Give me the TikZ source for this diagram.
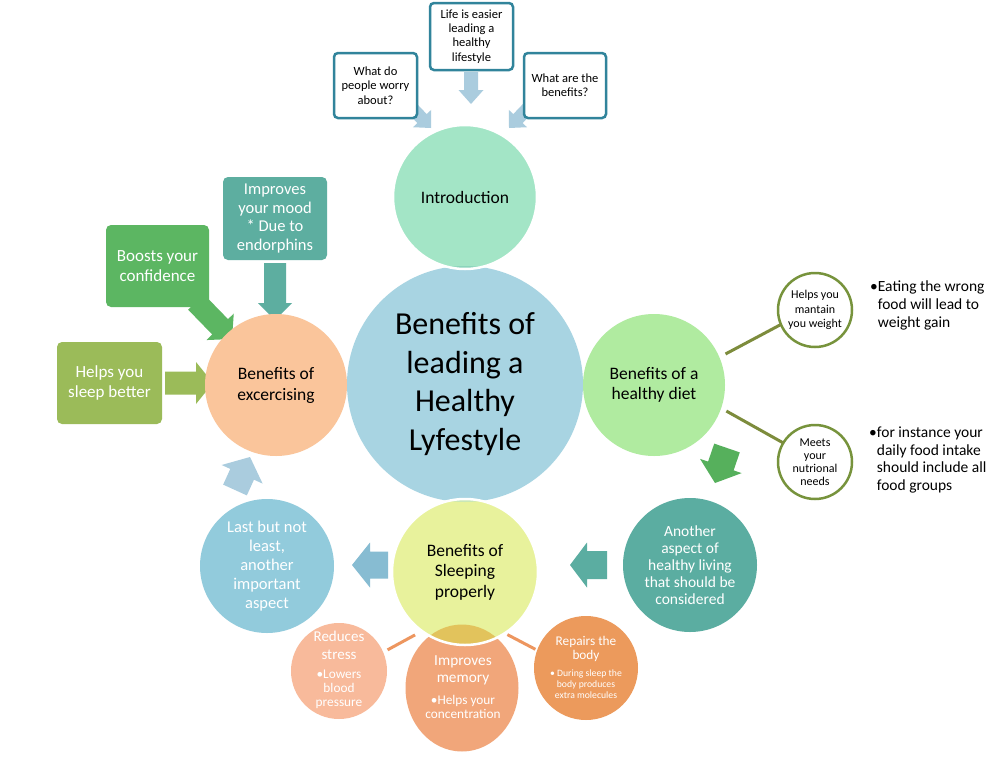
\documentclass[tikz,border=0pt]{standalone}
\usepackage{fontspec}
\setmainfont{Carlito}
\usetikzlibrary{calc,shapes.geometric}

\definecolor{cmain}{RGB}{168,212,226}
\definecolor{cintro}{RGB}{163,229,198}
\definecolor{cexer}{RGB}{250,197,155}
\definecolor{cdiet}{RGB}{176,235,160}
\definecolor{canother}{RGB}{91,173,161}
\definecolor{csleep}{RGB}{232,242,156}
\definecolor{clast}{RGB}{146,203,220}
\definecolor{creduce}{RGB}{248,186,155}
\definecolor{cmemory}{RGB}{241,166,122}
\definecolor{crepair}{RGB}{236,154,92}
\definecolor{lensintro}{RGB}{140,212,188}
\definecolor{lenssleep}{RGB}{201,231,182}
\definecolor{lensmem}{RGB}{226,195,92}
\definecolor{boxblue}{RGB}{49,132,155}
\definecolor{ringgreen}{RGB}{119,147,60}
\definecolor{linegreen}{RGB}{125,140,60}
\definecolor{lineorange}{RGB}{237,150,95}
\definecolor{cmood}{RGB}{93,174,160}
\definecolor{cconf}{RGB}{92,182,98}
\definecolor{csleepb}{RGB}{155,187,89}
\definecolor{abl}{RGB}{170,204,222}
\definecolor{ablue}{RGB}{135,188,210}
\definecolor{agreen}{RGB}{86,176,92}

\newcommand\fs[2]{\fontsize{#1}{#2}\selectfont}
% block arrow: colour, tail, tip, shaft half width, head half width, head length
\newcommand\blockarrow[6]{%
  \coordinate (ba-h) at ($(#3)!#6!(#2)$);
  \fill[#1] ($(#2)!#4!90:(#3)$) -- ($(ba-h)!#4!90:(#3)$) -- ($(ba-h)!#5!90:(#3)$)
    -- (#3) -- ($(ba-h)!#5!-90:(#3)$) -- ($(ba-h)!#4!-90:(#3)$) -- ($(#2)!#4!-90:(#3)$) -- cycle;
}

\begin{document}
\begin{tikzpicture}[x=1pt,y=-1pt,
  circ/.style={circle,inner sep=0pt,outer sep=0pt,align=center},
  qbox/.style={draw=boxblue,line width=2.5pt,fill=white,rounded corners=4pt,align=center,inner sep=0pt,font=\fs{12.5}{14.3}},
  cbox/.style={rounded corners=5pt,align=center,inner sep=0pt,text=white,font=\fs{17}{19.5}},
  ring/.style={circ,draw=ringgreen,line width=2.5pt,fill=white,minimum size=74pt,font=\fs{12}{14.4}},
  wtxt/.style={text=white,align=center,inner sep=0pt},
  gline/.style={draw=linegreen,line width=3pt},
  oline/.style={draw=lineorange,line width=3pt},
]
\useasboundingbox (0,0) rectangle (1002,758);
\fill[white] (0,0) rectangle (1002,758);

% arrow end points
\coordinate (a1t) at (471,72);  \coordinate (a1h) at (471,104);
\coordinate (a2t) at (410,106); \coordinate (a2h) at (431,128);
\coordinate (a3t) at (530,106); \coordinate (a3h) at (509,128);
\coordinate (a4t) at (275,263); \coordinate (a4h) at (275,320);
\coordinate (a5t) at (196,302); \coordinate (a5h) at (232,339);
\coordinate (a6t) at (165,383); \coordinate (a6h) at (213,383);
\coordinate (a7t) at (727,448); \coordinate (a7h) at (715,483);
\coordinate (a8t) at (607,565); \coordinate (a8h) at (570,565);
\coordinate (a9t) at (388,565); \coordinate (a9h) at (352,565);
\coordinate (a10t) at (235,490); \coordinate (a10h) at (250,457);

\blockarrow{abl}{a1t}{a1h}{7pt}{12.5pt}{14pt}
\blockarrow{abl}{a2t}{a2h}{6.5pt}{12.5pt}{13pt}
\blockarrow{abl}{a3t}{a3h}{6.5pt}{12.5pt}{13pt}
\blockarrow{cmood}{a4t}{a4h}{11pt}{17pt}{17pt}
\blockarrow{cconf}{a5t}{a5h}{11pt}{19pt}{17pt}
\blockarrow{csleepb}{a6t}{a6h}{11.5pt}{21pt}{17pt}
\blockarrow{agreen}{a7t}{a7h}{13.5pt}{22pt}{18pt}
\blockarrow{canother}{a8t}{a8h}{14pt}{22.5pt}{17pt}
\blockarrow{ablue}{a9t}{a9h}{13.5pt}{22.5pt}{18pt}
\blockarrow{abl}{a10t}{a10h}{13pt}{22.5pt}{19pt}

% circles
\node[circ,fill=cmain,minimum size=236pt,font=\fs{32}{38.5}] (main) at (465,384) {Benefits of\\leading a\\Healthy\\Lyfestyle};
\node[circ,fill=cintro,minimum size=144pt,font=\fs{17.5}{21}] (intro) at (465,197) {Introduction};
\node[circ,fill=cexer,minimum size=142pt,font=\fs{17.5}{21}] (exer) at (276,385) {Benefits of\\excercising};
\node[circ,fill=cdiet,minimum size=142pt,font=\fs{17.5}{20}] (diet) at (654,385) {Benefits of a\\healthy diet};
\node[circ,fill=canother,minimum size=134pt,text=white,font=\fs{15.5}{17}] (another) at (690,565) {Another\\aspect of\\healthy living\\that should be\\considered};
\node[circ,fill=clast,minimum size=134pt,text=white,font=\fs{16.5}{19}] (last) at (267,566) {Last but not\\least,\\another\\important\\aspect};
\node[circ,fill=creduce,minimum size=96pt] (rs) at (339,671) {};
\node[circ,fill=crepair,minimum size=104pt] (rep) at (586,668) {};
\node[ellipse,fill=cmemory,minimum width=113pt,minimum height=127pt,inner sep=0pt] (mem) at (462,688) {};
\node[circ,fill=csleep,minimum size=146pt,font=\fs{17.5}{20.5}] (sleep) at (465,572) {Benefits of\\Sleeping\\properly};

% overlaps
\begin{scope}
  \clip (intro.center) circle[radius=72pt];
  \fill[lensintro] (main.center) circle[radius=118pt];
\end{scope}
\begin{scope}
  \clip (sleep.center) circle[radius=73pt];
  \fill[lenssleep] (main.center) circle[radius=118pt];
\end{scope}
\begin{scope}
  \clip (sleep.center) circle[radius=73pt];
  \fill[lensmem] (mem.center) ellipse[x radius=56.5pt,y radius=63.5pt];
\end{scope}
\draw[white,line width=2.5pt] (intro.center) circle[radius=72pt];
\draw[white,line width=2.5pt] (sleep.center) circle[radius=73pt];

% right rings and links
\node[ring] (w1) at (815,310) {Helps you\\mantain\\you weight};
\node[ring,font=\fs{12}{13.2}] (w2) at (815,462) {Meets\\your\\nutrional\\needs};
\draw[gline,shorten <=7pt] (diet.23) -- (w1.203);
\draw[gline,shorten <=6pt] (diet.-19) -- (w2.149);
\draw[oline,shorten <=5pt,shorten >=8pt] (rs.23) -- (sleep.234);
\draw[oline,shorten <=3pt,shorten >=2pt] (sleep.-57) -- (rep.160);

\node[anchor=west,align=left,inner sep=0pt,font=\fs{15.5}{18}] (t1) at (870,305) {•Eating the wrong\\\hphantom{•}food will lead to\\\hphantom{•}weight gain};
\node[anchor=west,align=left,inner sep=0pt,font=\fs{15.5}{17.7}] (t2) at (869,460) {•for instance your\\\hphantom{•}daily food intake\\\hphantom{•}should include all\\\hphantom{•}food groups};

% bottom circle texts
\node[wtxt,font=\fs{15}{18}] (rsh) at (339,645) {Reduces\\stress};
\node[wtxt,font=\fs{13.3}{14}] (rsb) at (339,689) {•Lowers\\blood\\pressure};
\node[wtxt,font=\fs{15.3}{17}] (memh) at (463,670) {Improves\\memory};
\node[wtxt,font=\fs{13.3}{14}] (memb) at (463,707) {•Helps your\\concentration};
\node[wtxt,font=\fs{13.3}{14.5}] (reph) at (586,649) {Repairs the\\body};
\node[wtxt,font=\fs{9.7}{11}] (repb) at (586,684) {• During sleep the\\body produces\\extra molecules};

% question boxes
\node[qbox,minimum width=83pt,minimum height=65pt] (worry) at (375.5,85.5) {What do\\people worry\\about?};
\node[qbox,minimum width=83pt,minimum height=67pt] (life) at (471.5,36.5) {Life is easier\\leading a\\healthy\\lifestyle};
\node[qbox,minimum width=82pt,minimum height=65pt] (benef) at (565,85.5) {What are the\\benefits?};

% exercise boxes
\node[cbox,fill=cmood,minimum width=104pt,minimum height=83pt,font=\fs{16.5}{18.6}] (mood) at (275,218.5) {Improves\\your mood\\* Due to\\endorphins};
\node[cbox,fill=cconf,minimum width=103pt,minimum height=82pt] (conf) at (157.5,266) {Boosts your\\confidence};
\node[cbox,fill=csleepb,minimum width=105pt,minimum height=82pt] (sleepb) at (109.5,383) {Helps you\\sleep better};
\end{tikzpicture}
\end{document}
